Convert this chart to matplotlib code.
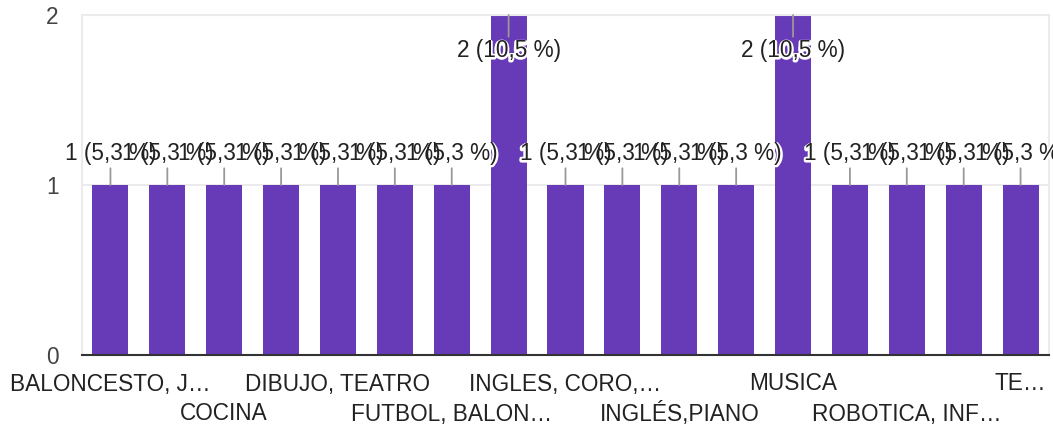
import matplotlib
matplotlib.use("Agg")
import matplotlib.pyplot as plt
import matplotlib.patheffects as pe

# ----------------------
# DATA
# ----------------------
# only every other category name is printed on the axis
categories = [
    "BALONCESTO, J…", "", "COCINA", "", "DIBUJO, TEATRO", "", "FUTBOL, BALON…", "",
    "INGLES, CORO,…", "", "INGLÉS,PIANO", "", "MUSICA", "", "ROBOTICA, INF…", "", "TE…",
]
counts = [1, 1, 1, 1, 1, 1, 1, 2, 1, 1, 1, 1, 2, 1, 1, 1, 1]
pct_labels = ["1 (5,3 %)"] * 17
pct_labels[7] = "2 (10,5 %)"
pct_labels[12] = "2 (10,5 %)"
y_ticks = [0, 1, 2]

BAR = "#673ab7"
FONT = "Liberation Sans"
FS = 16.3
plt.rcParams["font.family"] = [FONT, "DejaVu Sans"]

fig = plt.figure(figsize=(10.53, 4.29), dpi=100)
ax = fig.add_axes([82 / 1053, 1 - 355 / 429, 967 / 1053, 340 / 429])

x = list(range(len(counts)))
ax.bar(x, counts, width=0.633, color=BAR, zorder=2)

ax.set_xlim(-0.5, len(counts) - 0.5)
ax.set_ylim(0, max(y_ticks))

# frame: light grey box, dark baseline
for side in ["top", "left", "right"]:
    ax.spines[side].set_color("#ebebeb")
    ax.spines[side].set_linewidth(1.5)
ax.spines["bottom"].set_color("#333333")
ax.spines["bottom"].set_linewidth(1.5)
ax.spines["bottom"].set_zorder(3)

ax.set_yticks(y_ticks)
ax.set_yticklabels([str(v) for v in y_ticks], fontsize=FS, color="#444444")
ax.tick_params(axis="y", length=0, pad=17)
ax.grid(axis="y", color="#ebebeb", linewidth=1.5, zorder=0)

# category labels in two staggered rows
ax.set_xticks([])
for i, name in enumerate(categories):
    if not name:
        continue
    row = (i // 2) % 2
    ax.annotate(name, xy=(i, 0), xycoords="data",
                xytext=(0, -29 - 30 * row), textcoords="offset pixels",
                ha="center", va="center", fontsize=FS, color="#222222",
                annotation_clip=False)

# value labels with leader lines: all halos first, then all texts on top
halo = [pe.withStroke(linewidth=3, foreground="white")]
top = max(y_ticks)
for i, (v, lab) in enumerate(zip(counts, pct_labels)):
    dy = 31 if v < top else -36
    t = ax.annotate(lab, xy=(i, v), xycoords="data",
                    xytext=(0, dy), textcoords="offset pixels",
                    ha="center", va="center", fontsize=FS, color="white",
                    arrowprops=dict(arrowstyle="-", color="#999999", lw=1.3,
                                    shrinkA=0, shrinkB=0),
                    annotation_clip=False, zorder=4)
    t.set_path_effects(halo)
for i, (v, lab) in enumerate(zip(counts, pct_labels)):
    dy = 31 if v < top else -36
    ax.annotate(lab, xy=(i, v), xycoords="data",
                xytext=(0, dy), textcoords="offset pixels",
                ha="center", va="center", fontsize=FS, color="#222222",
                annotation_clip=False, zorder=5)

fig.savefig("out.png", dpi=100)
